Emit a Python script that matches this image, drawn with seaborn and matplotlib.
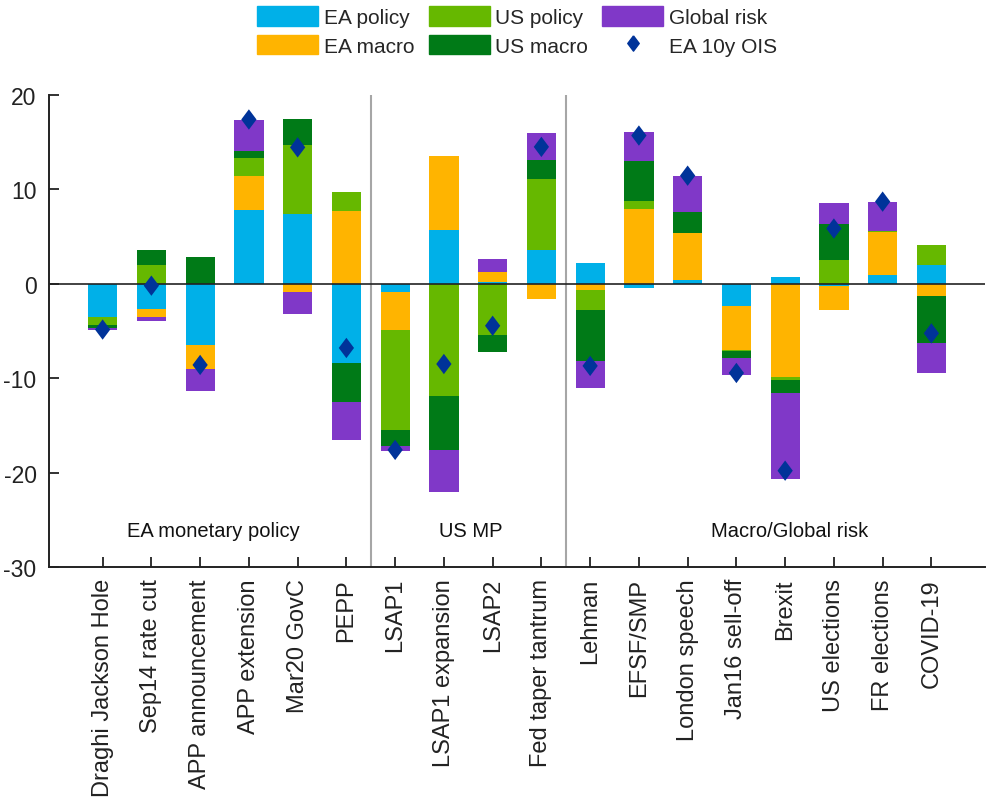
import numpy as np
import pandas as pd
import matplotlib
matplotlib.use("Agg")
import matplotlib.pyplot as plt
import seaborn as sns
from matplotlib.patches import Patch
from matplotlib.lines import Line2D

# --- data ---
events = ["Draghi Jackson Hole", "Sep14 rate cut", "APP announcement", "APP extension",
          "Mar20 GovC", "PEPP", "LSAP1", "LSAP1 expansion", "LSAP2", "Fed taper tantrum",
          "Lehman", "EFSF/SMP", "London speech", "Jan16 sell-off", "Brexit",
          "US elections", "FR elections", "COVID-19"]

ea_policy = [-3.55, -2.65, -6.5, 7.85, 7.4, -8.4, -0.85, 5.65, 0.2, 3.55,
             2.2, -0.5, 0.4, -2.35, 0.7, -0.2, 0.95, 2.0]
ea_macro = [0.0, -0.85, -2.5, 3.55, -0.85, 7.7, -4.0, 7.9, 1.05, -1.6,
            -0.7, 7.95, 4.95, -4.7, -9.9, -2.55, 4.5, -1.25]
us_policy = [-0.8, 1.95, 0.0, 1.95, 7.3, 2.0, -10.6, -11.85, -5.4, 7.55,
             -2.1, 0.8, 0.0, -0.1, -0.3, 2.55, 0.15, 2.1]
us_macro = [-0.3, 1.65, 2.85, 0.75, 2.8, -4.15, -1.7, -5.8, -1.85, 2.0,
            -5.35, 4.25, 2.2, -0.7, -1.35, 3.75, 0.0, -5.05]
global_risk = [-0.3, -0.4, -2.4, 3.25, -2.35, -4.0, -0.6, -4.45, 1.4, 2.9,
               -2.9, 3.05, 3.9, -1.8, -9.1, 2.25, 3.1, -3.2]
ois = [-4.85, -0.2, -8.6, 17.4, 14.45, -6.8, -17.6, -8.5, -4.45, 14.5,
       -8.7, 15.7, 11.45, -9.45, -19.8, 5.85, 8.7, -5.25]

components = ["EA policy", "EA macro", "US policy", "US macro", "Global risk"]
colors = ["#00B0E8", "#FFB400", "#66B800", "#007A17", "#8038C8"]
groups = ["EA monetary policy", "US MP", "Macro/Global risk"]

df = pd.DataFrame({"event": events, "EA policy": ea_policy, "EA macro": ea_macro,
                   "US policy": us_policy, "US macro": us_macro,
                   "Global risk": global_risk, "OIS": ois})

sns.set_style("ticks")
plt.rcParams["font.family"] = ["Liberation Sans", "DejaVu Sans"]
plt.rcParams["axes.unicode_minus"] = False

fig = plt.figure(figsize=(9.86, 8.03), dpi=100)
ax = fig.add_axes([0.0497, 0.2927, 0.9493, 0.5878])

# stacked bars, positives and negatives stacked separately
pos_base = np.zeros(len(events))
neg_base = np.zeros(len(events))
for comp, col in zip(components, colors):
    vals = df[comp].to_numpy()
    bottom = np.where(vals >= 0, pos_base, neg_base)
    sns.barplot(data=df, x="event", y=comp, order=events, color=col, saturation=1,
                width=0.6, errorbar=None, bottom=bottom, linewidth=0,
                edgecolor="none", ax=ax, zorder=2)
    pos_base = pos_base + np.where(vals >= 0, vals, 0)
    neg_base = neg_base + np.where(vals < 0, vals, 0)

diamond = [(0, 1), (0.75, 0), (0, -1), (-0.75, 0), (0, 1)]
sns.scatterplot(x=np.arange(len(events)), y=df["OIS"], marker=diamond, s=215,
                color="#003399", edgecolor="none", linewidth=0, legend=False,
                ax=ax, zorder=4)

ax.axhline(0, color="#222222", lw=1.2, zorder=3)
for xs in [5.5, 9.5]:
    ax.axvline(xs, color="#A6A6A6", lw=1.5, zorder=1)

for gx, gname in zip([2.28, 7.55, 14.1], groups):
    ax.text(gx, -26.1, gname, ha="center", va="center", fontsize=14.5, color="#111111")

ax.set_xlim(-1.1, 18.1)
ax.set_ylim(-30, 20)
ax.set_yticks([-30, -20, -10, 0, 10, 20])
ax.set_xticks(np.arange(len(events)))
ax.set_xticklabels(events, rotation=90, fontsize=17)
ax.tick_params(axis="y", direction="in", length=7, width=1.3, pad=9, labelsize=16.5,
               color="#222222", labelcolor="#222222")
ax.tick_params(axis="x", direction="in", length=7, width=1.3, pad=8,
               color="#222222", labelcolor="#222222")
ax.set_xlabel("")
ax.set_ylabel("")
sns.despine(ax=ax)
for sp in ["left", "bottom"]:
    ax.spines[sp].set_linewidth(1.4)
    ax.spines[sp].set_color("#222222")

handles = [Patch(color=colors[0]), Patch(color=colors[1]),
           Patch(color=colors[2]), Patch(color=colors[3]),
           Patch(color=colors[4]),
           Line2D([], [], ls="none", marker=diamond, ms=11, color="#003399")]
labels = ["EA policy", "EA macro", "US policy", "US macro", "Global risk", "EA 10y OIS"]
ax.legend(handles, labels, ncol=3, loc="lower center", bbox_to_anchor=(0.5, 1.083),
          frameon=False, fontsize=15, borderpad=0, borderaxespad=0,
          handlelength=2.93, handleheight=1.06, handletextpad=0.25,
          columnspacing=0.7, labelspacing=0.38)

fig.savefig("out.png", dpi=100)
